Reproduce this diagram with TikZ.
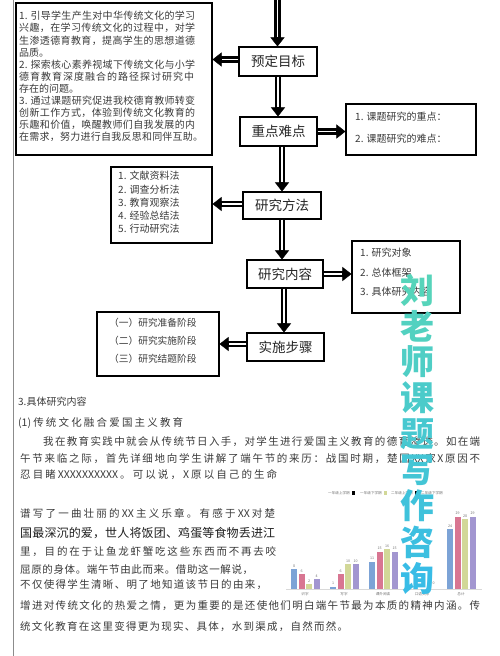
\documentclass[tikz,border=0pt]{standalone}
\usepackage{fontspec}
\setmainfont{Noto Sans CJK SC}
\newfontfamily\wmfont{Noto Sans CJK SC}
\usetikzlibrary{arrows.meta}
% inter-character glue for justified CJK lines
\XeTeXinterchartokenstate=1
\newcount\cjkc
\cjkc="4E00
\loop \XeTeXcharclass\cjkc=1\relax \advance\cjkc by 1\relax \ifnum\cjkc<"A000 \repeat
\XeTeXcharclass"FF0C=3 \XeTeXcharclass"3002=3 \XeTeXcharclass"3001=3
\XeTeXcharclass"FF1A=3 \XeTeXcharclass"FF09=3 \XeTeXcharclass"FF08=2
\newcommand\cjkglue{\hskip 0pt plus 1fil\relax}
\XeTeXinterchartoks 1 1 = {\cjkglue}
\XeTeXinterchartoks 1 3 = {\cjkglue}
\XeTeXinterchartoks 3 1 = {\cjkglue}
\XeTeXinterchartoks 1 0 = {\cjkglue}
\XeTeXinterchartoks 0 1 = {\cjkglue}
\XeTeXinterchartoks 3 0 = {\cjkglue}
\XeTeXinterchartoks 0 3 = {\cjkglue}
\XeTeXinterchartoks 2 1 = {\cjkglue}
\XeTeXinterchartoks 1 2 = {\cjkglue}
\XeTeXinterchartoks 3 2 = {\cjkglue}
\XeTeXinterchartoks 0 2 = {\cjkglue}
\XeTeXinterchartoks 3 3 = {\cjkglue}
\definecolor{txt}{HTML}{3A3A3A}
\definecolor{wmA}{RGB}{86,212,186}
\definecolor{wmB}{RGB}{56,188,230}
\definecolor{barA}{HTML}{7CA3D6}
\definecolor{barB}{HTML}{D87692}
\definecolor{barC}{HTML}{D2D898}
\definecolor{barD}{HTML}{A296D0}
\newcommand\jl[2]{\makebox[#1pt][s]{#2}}
\newcommand\fatarrow[2]{\draw[fat] #1 -- #2; \draw[fatin] #1 -- #2;}
\begin{document}
\begin{tikzpicture}[x=1pt,y=-1pt,
  box/.style={draw=black, line width=1.1pt, fill=white, inner sep=0pt},
  mainbox/.style={box, font=\fontsize{13.5}{16}\selectfont, text=black!85},
  ln/.style={anchor=base west, inner sep=0pt, text=txt, font=\fontsize{10}{12}\selectfont},
  body/.style={anchor=base west, inner sep=0pt, text=txt, font=\fontsize{10.5}{12}\selectfont},
  fat/.style={draw=black, line width=6.5pt, -{Triangle[length=9pt,width=14pt,line width=0.4pt]}},
  fatin/.style={draw=white, line width=1.5pt, shorten >=9.5pt},
  tiny/.style={inner sep=0pt, text=black!55, font=\fontsize{3.6}{4}\selectfont},
  wm/.style={inner sep=0pt, font=\wmfont\bfseries\fontsize{34}{34}\selectfont},
]
\fill[white] (0,0) rectangle (500,656);
\useasboundingbox (0,0) rectangle (500,656);
\draw[black!45, line width=1.3pt] (13.5,0) -- (13.5,656);

% side boxes
\node[box, minimum width=196pt, minimum height=152pt] (goals) at (114,79) {};
\node[box, minimum width=130pt, minimum height=51pt] (keypts) at (411,129.5) {};
\node[box, minimum width=101pt, minimum height=76pt] (methods) at (161.5,205) {};
\node[box, minimum width=108pt, minimum height=72pt] (content) at (406,277) {};
\node[box, minimum width=122pt, minimum height=64pt] (stages) at (158,344) {};

% main boxes
\node[mainbox, minimum width=78pt, minimum height=29pt] (pre) at (278,61.5) {预定目标};
\node[mainbox, minimum width=77pt, minimum height=29pt] (zd) at (278.5,131.5) {重点难点};
\node[mainbox, minimum width=78pt, minimum height=27pt] (ff) at (282,205.5) {研究方法};
\node[mainbox, minimum width=76pt, minimum height=28pt] (nr) at (285,274) {研究内容};
\node[mainbox, minimum width=77pt, minimum height=28pt] (ss) at (285.5,347) {实施步骤};

% arrows
\coordinate (top) at (277.5,0);
\fatarrow{(top)}{(top |- pre.north)}
\fatarrow{([yshift=2pt]pre.west)}{([yshift=2pt]goals.east |- pre.west)}
\fatarrow{(pre.south)}{(pre.south |- zd.north)}
\fatarrow{(zd.east)}{(keypts.west |- zd.east)}
\fatarrow{(ff.north |- zd.south)}{(ff.north)}
\fatarrow{([yshift=1.5pt]ff.west)}{([yshift=1.5pt]methods.east |- ff.west)}
\fatarrow{(ff.south)}{(ff.south |- nr.north)}
\fatarrow{(nr.east)}{(content.west |- nr.east)}
\fatarrow{([xshift=-1pt]nr.south)}{([xshift=-1pt]nr.south |- ss.north)}
\fatarrow{([yshift=3pt]ss.west)}{([yshift=3pt]stages.east |- ss.west)}

% goals text
\node[ln] (g1) at (19,19.8) {\jl{176}{1. 引导学生产生对中华传统文化的学习}};
\node[ln] (g2) at (19,31.9) {\jl{176}{兴趣，在学习传统文化的过程中，对学}};
\node[ln] (g3) at (19,44) {\jl{176}{生渗透德育教育，提高学生的思想道德}};
\node[ln] (g4) at (19,56.1) {品质。};
\node[ln] (g5) at (19,68.2) {\jl{176}{2. 探索核心素养视域下传统文化与小学}};
\node[ln] (g6) at (19,80.3) {\jl{175}{德育教育深度融合的路径探讨研究中}};
\node[ln] (g7) at (19,92.4) {存在的问题。};
\node[ln] (g8) at (19,104.5) {\jl{176}{3. 通过课题研究促进我校德育教师转变}};
\node[ln] (g9) at (19,116.6) {\jl{176}{创新工作方式，体验到传统文化教育的}};
\node[ln] (g10) at (19,128.7) {\jl{176}{乐趣和价值，唤醒教师们自我发展的内}};
\node[ln] (g11) at (19,140.8) {\jl{184}{在需求，努力进行自我反思和同伴互助。}};

% key points text
\node[ln] (k1) at (355,120.8) {1. 课题研究的重点：};
\node[ln] (k2) at (355,142.8) {2. 课题研究的难点：};

% methods text
\node[ln] (m1) at (118,179.8) {1. 文献资料法};
\node[ln] (m2) at (118,193.1) {2. 调查分析法};
\node[ln] (m3) at (118,206.3) {3. 教育观察法};
\node[ln] (m4) at (118,219.6) {4. 经验总结法};
\node[ln] (m5) at (118,232.8) {5. 行动研究法};

% content text
\node[ln] (c1) at (360,256.8) {1. 研究对象};
\node[ln] (c2) at (360,276.3) {2. 总体框架};
\node[ln] (c3) at (360,295.8) {3. 具体研究内容};

% stages text
\node[ln, font=\fontsize{9.7}{12}\selectfont] (s1) at (109,326.7) {（一）研究准备阶段};
\node[ln, font=\fontsize{9.7}{12}\selectfont] (s2) at (109,344.7) {（二）研究实施阶段};
\node[ln, font=\fontsize{9.7}{12}\selectfont] (s3) at (109,362.7) {（三）研究结题阶段};

% body text
\node[ln] (h1) at (18,405.8) {3.具体研究内容};
\node[body] (h2) at (18,426) {\jl{165}{(1)传统文化融合爱国主义教育}};
\node[body] (p1) at (43,445) {\jl{437}{我在教育实践中就会从传统节日入手，对学生进行爱国主义教育的德育渗透。如在端}};
\node[body] (p2) at (20,462) {\jl{460}{午节来临之际，首先详细地向学生讲解了端午节的来历：战国时期，楚国XX家X原因不}};
\node[body] (p3) at (20,478) {\jl{257}{忍目睹XXXXXXXXXX。可以说，X原以自己的生命}};
\node[body] (b1) at (20,517) {\jl{255}{谱写了一曲壮丽的XX主义乐章。有感于XX对楚}};
\node[body, text=black!88, font=\fontsize{12}{14}\selectfont] (b2) at (20,537.6) {\jl{255}{国最深沉的爱，世人将饭团、鸡蛋等食物丢进江}};
\node[body] (b3) at (20,555) {\jl{256}{里，目的在于让鱼龙虾蟹吃这些东西而不再去咬}};
\node[body] (b4) at (20,573) {\jl{233}{屈原的身体。端午节由此而来。借助这一解说，}};
\node[body] (b5) at (20,588) {\jl{247}{不仅使得学生清晰、明了地知道该节日的由来，}};
\node[body] (b6) at (20,609) {\jl{460}{增进对传统文化的热爱之情，更为重要的是还使他们明白端午节最为本质的精神内涵。传}};
\node[body] (b7) at (20,630) {\jl{328}{统文化教育在这里变得更为现实、具体，水到渠成，自然而然。}};

% chart
\draw[black!15, line width=0.4pt] (286,589.5) -- (482,589.5);
\foreach \g/\va/\vb/\vc/\vd in {0/8/6/2/4, 1/1/6/10/10, 2/11/15/16/15, 4/24/29/28/29}{
  \fill[barA] (291+39*\g,589) rectangle ++(6,-2.5*\va);
  \fill[barB] (298.5+39*\g,589) rectangle ++(6,-2.5*\vb);
  \fill[barC] (306+39*\g,589) rectangle ++(6,-2.5*\vc);
  \fill[barD] (313.5+39*\g,589) rectangle ++(6,-2.5*\vd);
  \node[tiny, anchor=south] (va\g) at (294+39*\g,587.5-2.5*\va) {\va};
  \node[tiny, anchor=south] (vb\g) at (301.5+39*\g,587.5-2.5*\vb) {\vb};
  \node[tiny, anchor=south] (vc\g) at (309+39*\g,587.5-2.5*\vc) {\vc};
  \node[tiny, anchor=south] (vd\g) at (316.5+39*\g,587.5-2.5*\vd) {\vd};
}
\node[tiny, anchor=south] (vd3) at (433.5,585) {0};
\foreach \g/\lab in {0/识字, 1/写字, 2/课外阅读, 3/口语交际, 4/总计}{
  \node[tiny, anchor=north] (cat\g) at (305+39*\g,592) {\lab};
}
% legend
\node[tiny, anchor=west] (lg1) at (328,493) {一年级上学期};
\fill[black] (351.5,491.3) rectangle (355,494.8);
\node[tiny, anchor=west] (lg2) at (360,493) {一年级下学期};
\fill[barC] (383.5,491.3) rectangle (387,494.8);
\node[tiny, anchor=west] (lg3) at (391,493) {二年级上学期};
\fill[black] (414.5,491.3) rectangle (418,494.8);
\node[tiny, anchor=west] (lg4) at (421,493) {二年级下学期};

% watermark
\foreach \c [count=\i from 0] in {刘,老,师,课,题,写,作,咨,询}{
  \pgfmathsetmacro\p{\i*12.5}
  \node[wm, text=wmB!\p!wmA] (wm\i) at (417,290+36*\i) {\c};
}
\end{tikzpicture}
\end{document}
